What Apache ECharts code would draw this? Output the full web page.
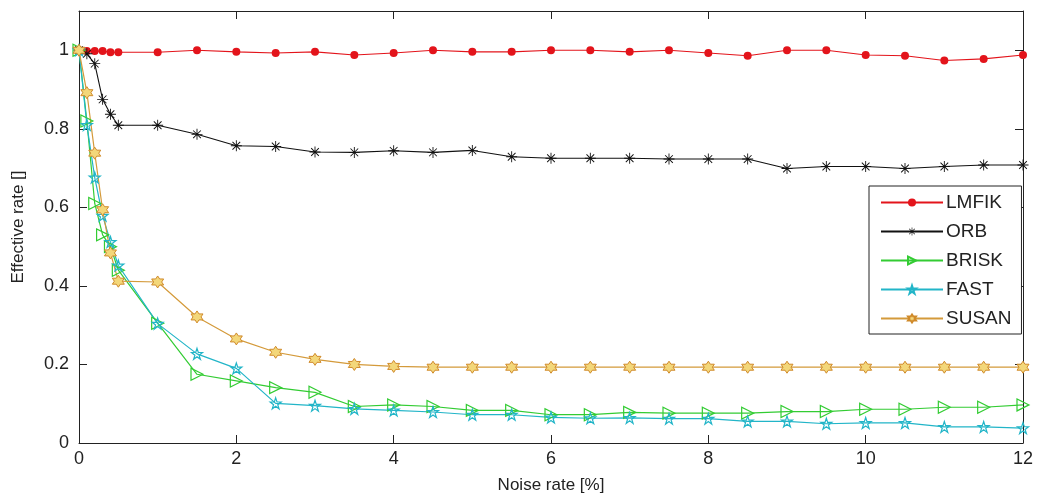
<!DOCTYPE html>
<html>
<head>
<meta charset="utf-8">
<script src="https://cdn.jsdelivr.net/npm/echarts@6/dist/echarts.min.js"></script>
<style>html,body{margin:0;padding:0;background:#fff;}#c{width:1037px;height:499px;}</style>
</head>
<body>
<div id="c"></div>
<script>
const noiseRate = [0, 0.1, 0.2, 0.3, 0.4, 0.5, 1, 1.5, 2, 2.5, 3, 3.5, 4, 4.5, 5, 5.5, 6, 6.5, 7, 7.5, 8, 8.5, 9, 9.5, 10, 10.5, 11, 11.5, 12];
const lmfik = [1.0, 0.998, 0.998, 0.998, 0.995, 0.995, 0.995, 1.0, 0.996, 0.993, 0.996, 0.988, 0.993, 1.0, 0.996, 0.996, 1.0, 1.0, 0.996, 1.0, 0.993, 0.986, 1.0, 1.0, 0.988, 0.986, 0.974, 0.978, 0.988];
const orb = [1.0, 0.991, 0.966, 0.875, 0.837, 0.809, 0.809, 0.786, 0.757, 0.755, 0.741, 0.740, 0.744, 0.740, 0.745, 0.729, 0.725, 0.725, 0.725, 0.723, 0.723, 0.723, 0.699, 0.704, 0.704, 0.699, 0.704, 0.708, 0.708];
const brisk = [1.0, 0.82, 0.61, 0.53, 0.50, 0.44, 0.305, 0.175, 0.158, 0.141, 0.129, 0.093, 0.097, 0.093, 0.083, 0.083, 0.072, 0.072, 0.078, 0.076, 0.076, 0.076, 0.080, 0.080, 0.086, 0.086, 0.091, 0.091, 0.097];
const fast = [1.0, 0.81, 0.676, 0.579, 0.512, 0.452, 0.304, 0.227, 0.19, 0.101, 0.095, 0.087, 0.083, 0.079, 0.072, 0.072, 0.065, 0.063, 0.064, 0.062, 0.062, 0.055, 0.055, 0.049, 0.051, 0.051, 0.041, 0.041, 0.038];
const susan = [1.0, 0.892, 0.738, 0.594, 0.484, 0.412, 0.41, 0.321, 0.265, 0.231, 0.213, 0.200, 0.195, 0.193, 0.193, 0.193, 0.193, 0.193, 0.193, 0.193, 0.193, 0.193, 0.193, 0.193, 0.193, 0.193, 0.193, 0.193, 0.193];
const seriesNames = ['LMFIK', 'ORB', 'BRISK', 'FAST', 'SUSAN'];
const xTicks = [0, 2, 4, 6, 8, 10, 12];

const pair = arr => noiseRate.map((x, i) => [x, arr[i]]);
const ASTER = 'path://M4.6,0L5.4,0L5.4,10L4.6,10Z M0,4.6L10,4.6L10,5.4L0,5.4Z M1.2,1.8L1.8,1.2L8.8,8.2L8.2,8.8Z M8.2,1.2L8.8,1.8L1.8,8.8L1.2,8.2Z';
const PENTA = 'path://M5,0L6.2,3.6L10,3.6L6.9,5.9L8.1,9.5L5,7.3L1.9,9.5L3.1,5.9L0,3.6L3.8,3.6Z';
const HEXA = 'path://M5,0L6.44,2.5L9.33,2.5L7.89,5L9.33,7.5L6.44,7.5L5,10L3.56,7.5L0.67,7.5L2.11,5L0.67,2.5L3.56,2.5Z';
const FONT = 'Liberation Sans';
const AX = '#222';

const chart = echarts.init(document.getElementById('c'), null, {renderer: 'canvas'});
const axisCommon = {
  axisLine: {show: true, onZero: false, lineStyle: {color: AX, width: 1}},
  axisTick: {show: true, inside: true, length: 8, lineStyle: {color: AX}},
  splitLine: {show: false}
};
chart.setOption({
  animation: false,
  backgroundColor: '#fff',
  grid: {left: 79, right: 14, top: 11, bottom: 54, containLabel: false},
  legend: {
    data: seriesNames,
    orient: 'vertical',
    left: 869, top: 186,
    padding: [7, 10, 6, 11],
    itemWidth: 62, itemHeight: 10, itemGap: 10,
    backgroundColor: '#fff',
    borderColor: AX, borderWidth: 1, borderRadius: 0,
    textStyle: {fontFamily: FONT, fontSize: 19, lineHeight: 19, color: '#222', padding: [0, 0, 0, -2]}
  },
  xAxis: [
    Object.assign({}, axisCommon, {
      type: 'value', min: 0, max: 12, interval: 2, position: 'bottom',
      name: 'Noise rate [%]', nameLocation: 'middle', nameGap: 34,
      nameTextStyle: {fontFamily: FONT, fontSize: 17, color: '#222'},
      axisLabel: {fontFamily: FONT, fontSize: 18, color: '#222', margin: 7,
        formatter: v => xTicks.indexOf(v) >= 0 ? String(v) : ''}
    }),
    Object.assign({}, axisCommon, {
      type: 'value', min: 0, max: 12, interval: 2, position: 'top',
      axisLabel: {show: false}
    })
  ],
  yAxis: [
    Object.assign({}, axisCommon, {
      type: 'value', min: 0, max: 1.1, interval: 0.2, position: 'left',
      name: 'Effective rate []', nameLocation: 'middle', nameGap: 52,
      nameTextStyle: {fontFamily: FONT, fontSize: 17, color: '#222'},
      axisLabel: {fontFamily: FONT, fontSize: 18, color: '#222', margin: 10,
        formatter: v => v > 1.01 ? '' : String(Math.round(v * 10) / 10)}
    }),
    Object.assign({}, axisCommon, {
      type: 'value', min: 0, max: 1.1, interval: 0.2, position: 'right',
      axisLabel: {show: false}
    })
  ],
  series: [
    {name: 'LMFIK', type: 'line', data: pair(lmfik), symbol: 'circle', symbolSize: 8,
      lineStyle: {color: '#e3141b', width: 1.2}, itemStyle: {color: '#e3141b'}},
    {name: 'ORB', type: 'line', data: pair(orb), symbol: ASTER, symbolSize: 11,
      lineStyle: {color: '#111', width: 1.1}, itemStyle: {color: '#111'}},
    {name: 'BRISK', type: 'line', data: pair(brisk), symbol: 'triangle', symbolRotate: -90, symbolSize: 12,
      lineStyle: {color: '#33cc33', width: 1.2},
      itemStyle: {color: 'rgba(255,255,255,0)', borderColor: '#33cc33', borderWidth: 1.2}},
    {name: 'FAST', type: 'line', data: pair(fast), symbol: PENTA, symbolSize: 11,
      lineStyle: {color: '#22b5c8', width: 1.2},
      itemStyle: {color: 'rgba(255,255,255,0)', borderColor: '#22b5c8', borderWidth: 1.2}},
    {name: 'SUSAN', type: 'line', data: pair(susan), symbol: HEXA, symbolSize: 12,
      lineStyle: {color: '#d49a3a', width: 1.2},
      itemStyle: {color: '#f3d77a', borderColor: '#d08a2a', borderWidth: 1}}
  ]
});
</script>
</body>
</html>
